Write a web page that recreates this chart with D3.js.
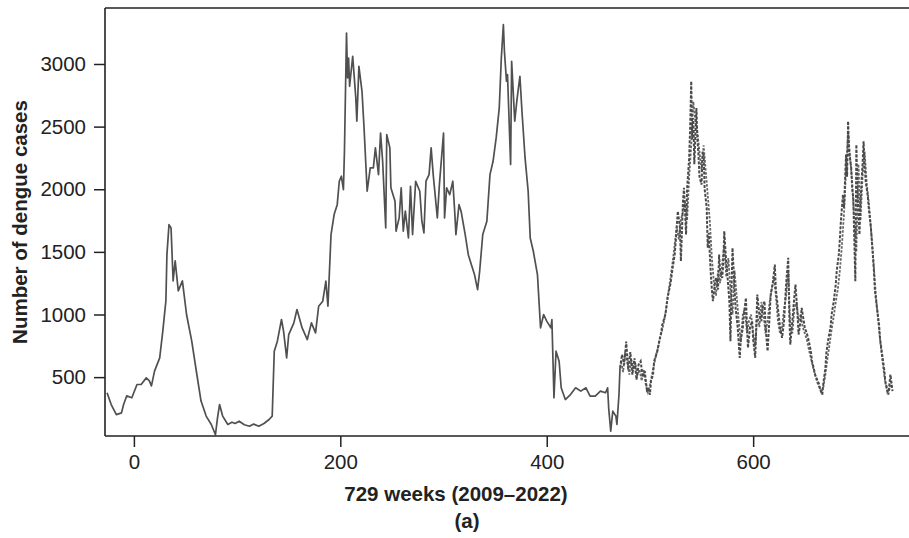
<!DOCTYPE html>
<html>
<head>
<meta charset="utf-8">
<script src="https://cdn.jsdelivr.net/npm/d3@7"></script>
<style>
  body { margin: 0; background: #fff; }
  svg { font-family: "Liberation Sans", Arial, sans-serif; }
</style>
</head>
<body>
<div id="chart"></div>
<script>
// observed weekly cases (solid part)
var weeksObserved = [-26,-22,-17,-12,-10,-7,-2,3,7,12,15,17,20,25,28,31,32,34,36,38,40,43,47,51,56,61,65,70,75,79,81,83,86,91,95,98,102,107,112,116,121,126,131,134,136,139,143,145,148,150,155,158,163,168,172,176,179,183,186,188,191,194,197,199,201,203,204,206,207,208,209,212,215,216,218,221,223,226,229,232,234,237,239,241,244,245,248,249,253,254,257,259,261,263,266,268,270,273,277,279,281,283,286,288,290,294,296,300,301,303,306,309,311,312,315,317,321,324,327,330,333,335,338,342,345,348,351,354,356,358,359,361,362,365,366,369,371,374,376,379,382,384,387,391,394,397,400,404,405,407,409,412,414,418,423,428,433,438,442,447,452,457,459,460,462,464,467,468,470,471];
var casesObserved = [375,281,201,215,281,350,335,441,441,494,470,430,548,654,867,1109,1478,1718,1691,1268,1428,1189,1268,1000,790,521,311,189,122,40,175,281,189,122,140,130,148,120,108,125,108,130,162,189,707,787,960,867,654,840,933,1040,893,800,933,853,1066,1106,1266,1066,1638,1798,1877,2064,2104,1997,2303,3247,2888,3048,2822,3061,2729,2543,2981,2782,2489,1984,2170,2170,2330,2117,2449,2223,1691,2436,2330,2011,1904,1665,1771,2011,1665,1825,1611,2024,1638,2064,1984,1745,1651,2064,2117,2330,2117,1771,2037,2449,1771,2011,1957,2064,1798,1638,1877,1825,1638,1478,1398,1319,1199,1345,1638,1745,2117,2223,2410,2649,3048,3314,3101,2862,2915,2197,3021,2543,2703,2902,2623,2250,1984,1611,1505,1319,893,1000,947,893,960,335,707,627,415,321,361,415,388,415,348,348,388,375,415,255,69,228,189,122,361,574];

// later weeks (dashed part, two overlapping series)
var weeksDashed = [471,473,475,477,479,481,483,485,487,489,491,493,495,497,498,500,501,503,504,507,509,511,512,515,517,520,522,524,525,527,529,530,532,533,535,536,538,539,540,541,542,543,545,546,547,548,550,551,552,553,555,556,557,559,560,561,563,564,566,567,568,570,571,572,574,575,577,578,579,580,582,583,585,587,588,590,591,593,594,595,597,599,600,602,603,604,606,608,609,611,612,614,616,617,619,621,622,624,626,628,630,631,632,634,635,636,638,639,640,641,643,644,646,647,649,650,652,654,656,657,659,660,662,664,665,667,668,670,671,673,675,676,678,680,681,683,684,685,687,688,690,691,692,693,695,696,697,698,699,700,701,703,704,705,706,707,708,709,711,712,714,715,717,718,720,722,723,725,727,728,730,731,733,735];
var casesDashed = [574,680,600,784,560,700,520,650,480,600,627,500,548,400,415,360,468,520,627,700,787,860,920,1000,1133,1250,1372,1480,1585,1825,1700,1426,1900,2011,1638,2000,2250,2500,2862,2400,2569,2200,2649,2400,2277,2100,2037,2300,2277,2000,1851,1532,1650,1319,1200,1106,1250,1292,1200,1478,1350,1292,1400,1665,1400,1319,1100,787,1200,1532,1200,1053,900,654,800,893,1000,1133,900,734,900,947,800,654,900,1159,1000,947,1050,1106,900,707,1000,1159,1250,1398,1200,1053,900,813,950,1106,1250,1452,1000,760,950,1053,1150,1239,1000,840,950,1053,950,893,850,787,700,627,560,521,480,441,400,361,450,574,700,813,900,1000,1100,1239,1350,1478,1600,1745,1957,1850,2277,2100,2543,2300,2170,2000,1931,1600,1266,2356,2000,1638,1900,2064,2200,2383,2200,2064,1950,1851,1700,1585,1350,1186,1050,920,800,681,560,468,400,361,521,388];

var weeksPred = [472,474,476,478,480,482,484,486,488,490, 492,494,496,498,500,502,504,506,508,510, 512,514,516,518,520,522,524,526,528,530, 532,534,536,538,540,542,544,546,548,550, 552,554,556,558,560,562,564,566,568,570, 572,574,576,578,580,582,584,586,588,590, 592,594,596,598,600,602,604,606,608,610, 612,614,616,618,620,622,624,626,628,630, 632,634,636,638,640,642,644,646,648,650, 652,654,656,658,660,662,664,666,668,670, 672,674,676,678,680,682,684,686,688,690, 692,694,696,698,700,702,704,706,708,710, 712,714,716,718,720,722,724,726,728,730, 732,734];
var casesPred = [620,540,700,620,520,640,560,600,520,560, 470,560,440,380,440,520,600,680,740,820, 880,960,1060,1180,1300,1420,1560,1700,1600,1760, 1820,1900,1750,2100,2350,2700,2550,2450,2300,2150, 2350,2150,1950,1750,1450,1250,1150,1350,1250,1400, 1550,1300,1450,1200,1000,1350,1150,950,780,1000, 1050,850,950,1000,850,750,1000,900,1100,1000, 850,950,1100,1200,1300,1150,950,850,900,1050, 1150,1350,900,850,1050,1100,950,1000,900,850, 800,720,650,580,520,460,420,380,420,520, 650,760,880,980,1100,1200,1350,1550,1800,2150, 2450,2250,2050,1750,1500,2200,1750,2100,2300,2050, 1900,1700,1500,1250,1050,880,720,580,460,380, 400,460];

var xTicks = [0, 200, 400, 600];
var yTicks = [500, 1000, 1500, 2000, 2500, 3000];

var width = 909, height = 538;
var margin = {top: 8, right: 0, bottom: 102, left: 105};
var innerW = width - margin.left - margin.right;
var innerH = height - margin.top - margin.bottom;

var svg = d3.select('#chart').append('svg')
  .attr('width', width)
  .attr('height', height);

var g = svg.append('g')
  .attr('transform', `translate(${margin.left},${margin.top})`);

var x = d3.scaleLinear().domain([-28, 751]).range([0, innerW]);
var y = d3.scaleLinear().domain([30, 3447]).range([innerH, 0]);

var line = d3.line()
  .x(d => x(d[0]))
  .y(d => y(d[1]));

var observed = weeksObserved.map((w, i) => [w, casesObserved[i]]);
var dashed = weeksDashed.map((w, i) => [w, casesDashed[i]]);
var pred = weeksPred.map((w, i) => [w, casesPred[i]]);

g.append('path')
  .datum(observed)
  .attr('fill', 'none')
  .attr('stroke', '#505050')
  .attr('stroke-width', 1.7)
  .attr('stroke-linejoin', 'round')
  .attr('d', line);

g.append('path')
  .datum(pred)
  .attr('fill', 'none')
  .attr('stroke', '#666')
  .attr('stroke-width', 1.8)
  .attr('stroke-dasharray', '2.5,1.5')
  .attr('d', line);

g.append('path')
  .datum(dashed)
  .attr('fill', 'none')
  .attr('stroke', '#4a4a4a')
  .attr('stroke-width', 2)
  .attr('stroke-dasharray', '3,1.5')
  .attr('d', line);

// axes
var xAxis = g.append('g')
  .attr('transform', `translate(0,${innerH})`)
  .call(d3.axisBottom(x).tickValues(xTicks).tickFormat(d3.format('d')).tickSize(11).tickPadding(7));
var yAxis = g.append('g')
  .call(d3.axisLeft(y).tickValues(yTicks).tickFormat(d3.format('d')).tickSize(11).tickPadding(8));

[xAxis, yAxis].forEach(ax => {
  ax.select('.domain').remove();
  ax.selectAll('line').attr('stroke', '#222').attr('stroke-width', 1.5);
  ax.selectAll('text')
    .attr('fill', '#222')
    .style('font-size', '20.5px');
});

// spines: left, bottom, top
g.append('line').attr('x1', 0).attr('x2', 0).attr('y1', 0).attr('y2', innerH)
  .attr('stroke', '#222').attr('stroke-width', 1.6);
g.append('line').attr('x1', 0).attr('x2', innerW).attr('y1', innerH).attr('y2', innerH)
  .attr('stroke', '#222').attr('stroke-width', 1.6);
g.append('line').attr('x1', 0).attr('x2', innerW).attr('y1', 0).attr('y2', 0)
  .attr('stroke', '#222').attr('stroke-width', 1.6);

// labels
svg.append('text')
  .attr('transform', `translate(27,${margin.top + innerH / 2}) rotate(-90)`)
  .attr('text-anchor', 'middle')
  .attr('fill', '#222')
  .style('font-size', '20.5px')
  .style('font-weight', 'bold')
  .text('Number of dengue cases');

svg.append('text')
  .attr('x', 456)
  .attr('y', 501)
  .attr('text-anchor', 'middle')
  .attr('fill', '#222')
  .style('font-size', '20.5px')
  .style('font-weight', 'bold')
  .text('729 weeks (2009–2022)');

svg.append('text')
  .attr('x', 467)
  .attr('y', 528)
  .attr('text-anchor', 'middle')
  .attr('fill', '#222')
  .style('font-size', '20.5px')
  .style('font-weight', 'bold')
  .text('(a)');
</script>
</body>
</html>
